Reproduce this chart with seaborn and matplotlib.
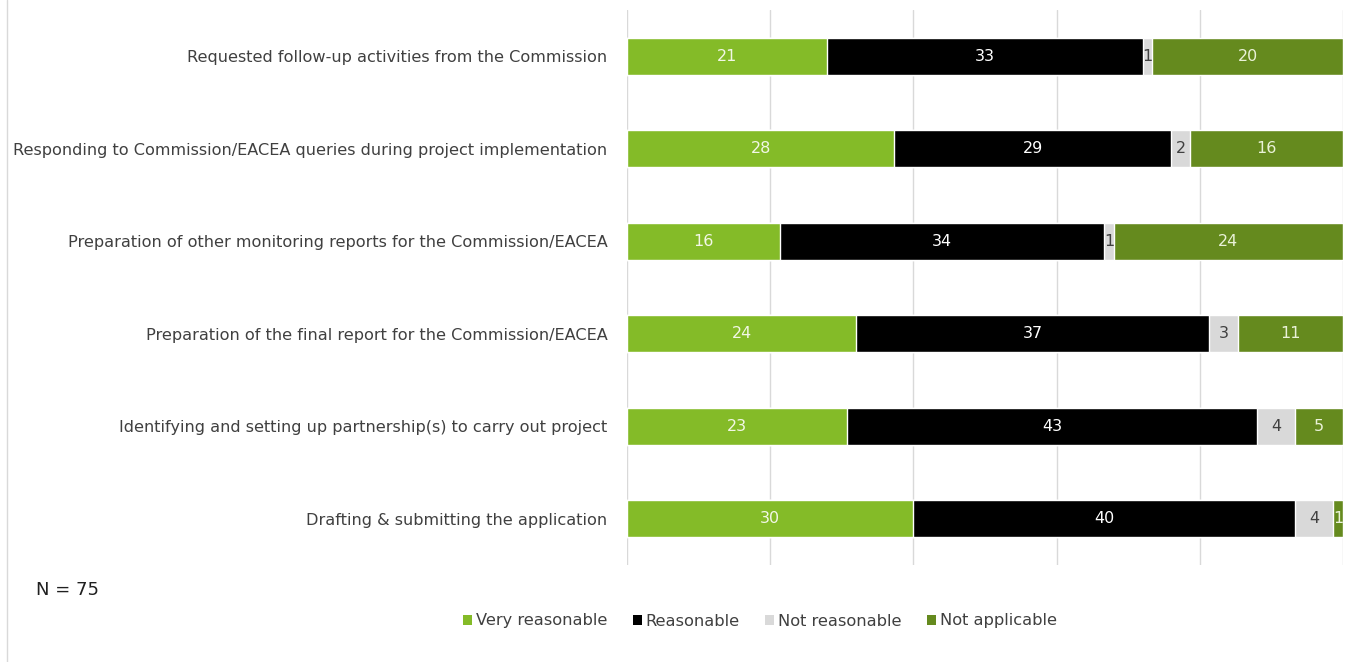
import matplotlib
matplotlib.use("Agg")
import matplotlib.pyplot as plt
from matplotlib.patches import Patch
from matplotlib.lines import Line2D
import seaborn as sns
import pandas as pd
import numpy as np

categories = [
    "Requested follow-up activities from the Commission",
    "Responding to Commission/EACEA queries during project implementation",
    "Preparation of other monitoring reports for the Commission/EACEA",
    "Preparation of the final report for the Commission/EACEA",
    "Identifying and setting up partnership(s) to carry out project",
    "Drafting & submitting the application",
]
series_names = ["Very reasonable", "Reasonable", "Not reasonable", "Not applicable"]
very_reasonable = [21, 28, 16, 24, 23, 30]
reasonable = [33, 29, 34, 37, 43, 40]
not_reasonable = [1, 2, 1, 3, 4, 4]
not_applicable = [20, 16, 24, 11, 5, 1]

colors = ["#84BB28", "#000000", "#D9D9D9", "#658A1E"]
text_colors = ["#F2F7E6", "#FFFFFF", "#404040", "#EAF2D8"]

sns.set_theme(style="white")
plt.rcParams['font.family'] = ['DejaVu Sans']

fig = plt.figure(figsize=(13.68, 6.62), dpi=100)
ax = fig.add_axes([627/1368, 1-565/662, (1343-627)/1368, (565-10)/662])

values = [very_reasonable, reasonable, not_reasonable, not_applicable]
cum = np.zeros(len(categories))
cums = []
for v in values:
    cum = cum + np.array(v)
    cums.append(cum.copy())

for i in reversed(range(len(values))):
    d = pd.DataFrame({"category": categories, "val": cums[i]})
    sns.barplot(data=d, x="val", y="category", color=colors[i], ax=ax,
                width=0.4, saturation=1, orient="h")

for i, v in enumerate(values):
    for j, val in enumerate(v):
        left = cums[i][j] - val
        ax.text(left + val/2, j, str(val), ha="center", va="center",
                color=text_colors[i], fontsize=11.5)

ax.set_xlim(0, 75)
ax.set_ylim(5.5, -0.5)
ax.set_xticks([0, 15, 30, 45, 60, 75])
ax.set_xticklabels([])
ax.xaxis.grid(True, color="#D9D9D9", linewidth=1)
ax.set_axisbelow(True)
ax.set_xlabel("")
ax.set_ylabel("")
ax.tick_params(axis="y", length=0, pad=14, labelsize=11.6, labelcolor="#404040")
ax.tick_params(axis="x", length=0)
for s in ax.spines.values():
    s.set_visible(False)

fig.text(36/1368, 1-590/662, "N = 75", fontsize=13, color="#202020", va="center", ha="left")

handles = [Patch(facecolor=c, edgecolor="none") for c in colors]
fig.legend(handles, series_names, loc="center", bbox_to_anchor=(760/1368, 1-621/662),
           ncol=4, frameon=False, fontsize=11.7, handlelength=0.55, handleheight=0.55,
           handletextpad=0.25, columnspacing=1.55, labelcolor="#404040")

fig.add_artist(Line2D([7/1368, 7/1368], [0, 1], transform=fig.transFigure,
                      color="#D9D9D9", linewidth=1))

fig.savefig("out.png", dpi=100)
